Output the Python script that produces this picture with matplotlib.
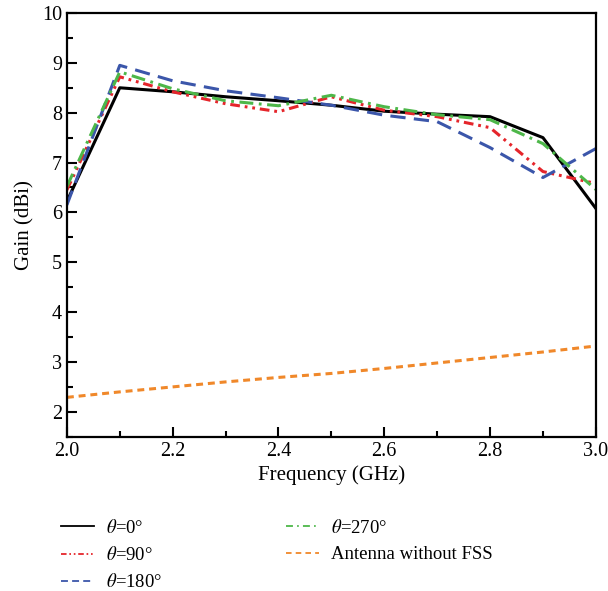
import matplotlib
matplotlib.use("Agg")
import matplotlib.pyplot as plt
from matplotlib.ticker import MultipleLocator, FormatStrFormatter
from matplotlib.lines import Line2D

plt.rcParams['font.family'] = ['Liberation Serif', 'DejaVu Serif']
plt.rcParams['mathtext.fontset'] = 'stix'
plt.rcParams['lines.scale_dashes'] = False

freq = [2.0, 2.1, 2.2, 2.3, 2.4, 2.5, 2.6, 2.7, 2.8, 2.9, 3.0]
gain_0 = [6.22, 8.50, 8.42, 8.32, 8.24, 8.15, 8.03, 7.97, 7.92, 7.50, 6.08]
gain_90 = [6.45, 8.72, 8.42, 8.18, 8.02, 8.32, 8.05, 7.92, 7.70, 6.82, 6.58]
gain_180 = [6.15, 8.95, 8.64, 8.44, 8.30, 8.15, 7.95, 7.82, 7.30, 6.70, 7.28]
gain_270 = [6.52, 8.82, 8.48, 8.24, 8.14, 8.35, 8.12, 7.96, 7.86, 7.38, 6.46]
gain_nofss = [2.29, 2.40, 2.50, 2.60, 2.69, 2.77, 2.87, 2.98, 3.09, 3.20, 3.32]

labels = [r'$\theta$=0°', r'$\theta$=90°', r'$\theta$=180°', r'$\theta$=270°', 'Antenna without FSS']
colors = ['black', '#e5252b', '#3b56aa', '#4db749', '#f0882a']
dash_styles = [None, (7, 3.5, 2, 3.5, 2, 3.5), (11, 6), (10, 4, 2, 4), (5, 3.5)]
legend_dashes = [None, (4, 2, 1.2, 2, 1.2, 2), (5, 3), (5, 3, 1.2, 3), (4, 3)]
series = [gain_0, gain_90, gain_180, gain_270, gain_nofss]

fig = plt.figure(figsize=(6.08, 5.91), dpi=100)
ax = fig.add_axes([0.110, 0.261, 0.870, 0.717])

lw = 2.2
for ys, c, d, lab in zip(series, colors, dash_styles, labels):
    if d is None:
        ax.plot(freq, ys, color=c, lw=lw, label=lab)
    else:
        ax.plot(freq, ys, color=c, lw=lw, dashes=d, label=lab)

ax.set_xlim(2.0, 3.0)
ax.set_ylim(1.5, 10)
ax.xaxis.set_major_locator(MultipleLocator(0.2))
ax.xaxis.set_minor_locator(MultipleLocator(0.1))
ax.yaxis.set_major_locator(MultipleLocator(1))
ax.yaxis.set_minor_locator(MultipleLocator(0.5))
ax.xaxis.set_major_formatter(FormatStrFormatter('%.1f'))
ax.tick_params(which='both', direction='in', labelsize=14.5, width=1.5, top=False, right=False)
ax.tick_params(which='major', length=7)
ax.tick_params(which='minor', length=4)
for s in ax.spines.values():
    s.set_linewidth(1.6)

ax.set_xlabel('Frequency (GHz)', fontsize=15, labelpad=3)
ax.set_ylabel('Gain (dBi)', fontsize=15, labelpad=5)

handles = []
for c, d, lab in zip(colors, legend_dashes, labels):
    if d is None:
        handles.append(Line2D([], [], color=c, lw=1.3, label=lab))
    else:
        handles.append(Line2D([], [], color=c, lw=1.3, dashes=d, label=lab))

fig.legend(handles=handles, loc='upper left', bbox_to_anchor=(0.088, 0.135), ncol=2, frameon=False,
           fontsize=13.5, handlelength=1.75, handletextpad=0.65, columnspacing=6.6,
           labelspacing=0.5, borderaxespad=0)

fig.savefig('out.png', dpi=100)
